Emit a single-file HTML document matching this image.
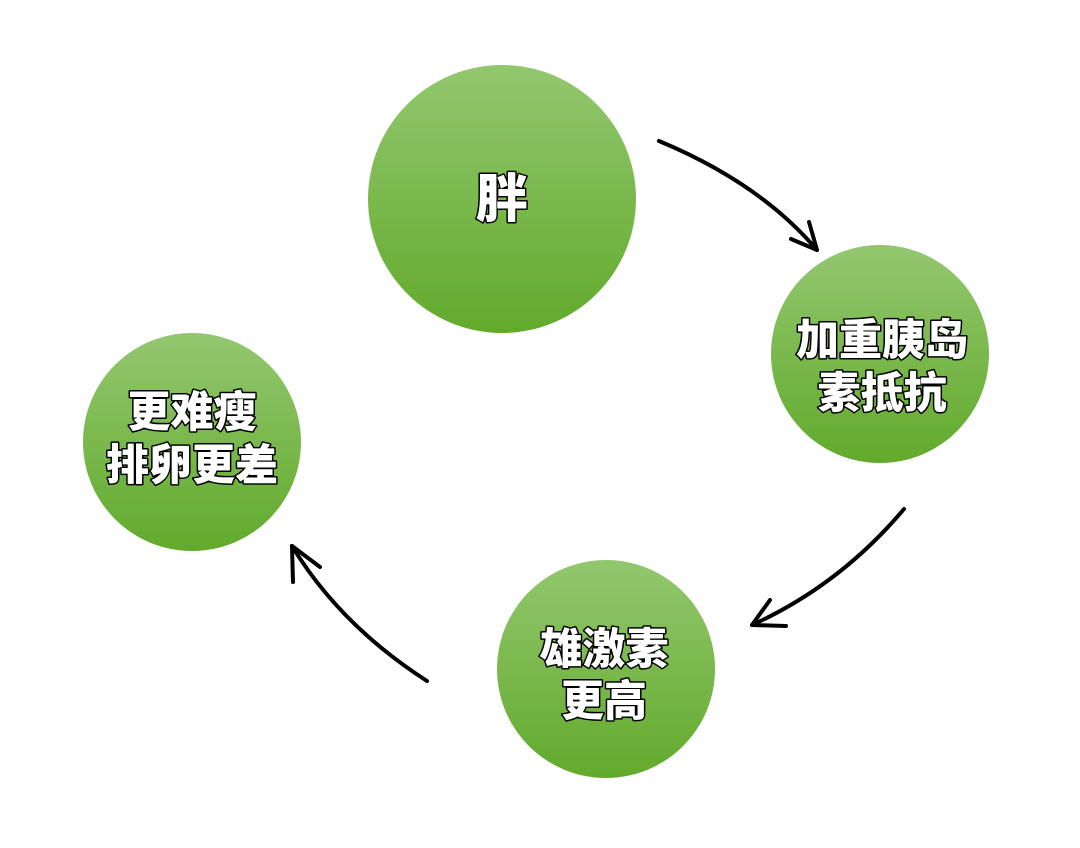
<!DOCTYPE html>
<html><head><meta charset="utf-8"><style>
html,body{margin:0;padding:0;background:#fff;}
svg text{font-family:"Liberation Sans","Noto Sans CJK SC",sans-serif;font-weight:900;fill:#fff;stroke:#000;stroke-width:3px;paint-order:stroke;stroke-linejoin:round;text-anchor:middle;}
</style></head><body>
<svg width="1080" height="843" viewBox="0 0 1080 843" xmlns="http://www.w3.org/2000/svg">
<defs>
<linearGradient id="g" x1="0" y1="0" x2="0" y2="1">
<stop offset="0" stop-color="#93c76f"/>
<stop offset="1" stop-color="#62aa2c"/>
</linearGradient>
</defs>
<circle cx="502" cy="199" r="134" fill="url(#g)"/>
<circle cx="880" cy="354" r="109" fill="url(#g)"/>
<circle cx="606" cy="669" r="109" fill="url(#g)"/>
<circle cx="192" cy="442" r="109" fill="url(#g)"/>
<g fill="none" stroke="#000" stroke-width="4" stroke-linecap="round" stroke-linejoin="round">
<path d="M659 141 Q760 183 817 250"/>
<path d="M791 239 L817 250 L809 222"/>
<path d="M904 509 Q840 585 752 625"/>
<path d="M786 626 L752 625 L770 600"/>
<path d="M427 681 Q340 625 292 546"/>
<path d="M293 582 L292 546 L320 567"/>
</g>
<text x="502" y="217" font-size="52">胖</text>
<text x="882" y="355" font-size="43">加重胰岛</text>
<text x="882" y="408" font-size="43">素抵抗</text>
<text x="604" y="664" font-size="43">雄激素</text>
<text x="604" y="716" font-size="43">更高</text>
<text x="192" y="427" font-size="43">更难瘦</text>
<text x="192" y="480" font-size="43">排卵更差</text>
</svg>
</body></html>
